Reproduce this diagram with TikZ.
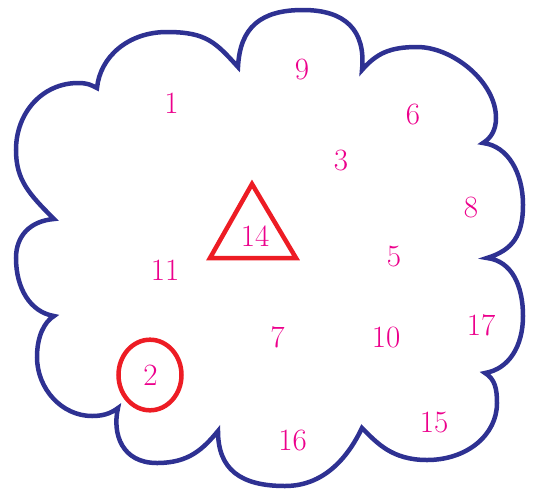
\documentclass[tikz,border=0pt]{standalone}
\definecolor{cloudblue}{RGB}{46,49,146}
\definecolor{numpink}{RGB}{236,0,140}
\definecolor{markred}{RGB}{237,28,36}
\begin{document}
\begin{tikzpicture}[x=1pt,y=-1pt,
  cloudline/.style={draw=cloudblue,line width=4.5pt,line cap=round,line join=miter},
  markline/.style={draw=markred,line width=4.5pt,line join=miter},
  num/.style={text=numpink,font=\fontsize{31}{36}\selectfont,inner sep=0pt}]
\useasboundingbox (0,0) rectangle (535,491);
% cusps of the cloud
\coordinate (A) at (97,88);
\coordinate (B) at (238,67);
\coordinate (C) at (362,70);
\coordinate (D) at (483,143);
\coordinate (E) at (487,258);
\coordinate (F) at (485,373);
\coordinate (G) at (362,428);
\coordinate (H) at (218,431);
\coordinate (I) at (118,408);
\coordinate (J) at (54,316);
\coordinate (K) at (54,219);
\coordinate (S) at (167,32);
\draw[cloudline] (S)
  .. controls +(40,0) and +(-22,-24) .. (B)
  .. controls +(2,-40) and +(-42,0) .. (303,10)
  .. controls +(42,0) and +(4,-40) .. (C)
  .. controls +(14,-16) and +(-28,0) .. (417,47)
  .. controls +(36,0) and +(0,-36) .. (496,118)
  .. controls +(0,12) and +(8,-5) .. (D)
  .. controls +(25,3) and +(0,-32) .. (523,205)
  .. controls +(0,30) and +(26,-8) .. (E)
  .. controls +(25,3) and +(0,-30) .. (523,316)
  .. controls +(0,30) and +(24,-4) .. (F)
  .. controls +(10,6) and +(0,-14) .. (497,403)
  .. controls +(0,32) and +(40,0) .. (427,460)
  .. controls +(-35,0) and +(15,15) .. (G)
  .. controls +(-12,25) and +(42,0) .. (285,486)
  .. controls +(-45,0) and +(0,38) .. (H)
  .. controls +(-15,18) and +(32,0) .. (157,463)
  .. controls +(-35,0) and +(-6,26) .. (I)
  .. controls +(-8,6) and +(10,0) .. (92,416)
  .. controls +(-30,0) and +(0,32) .. (37,357)
  .. controls +(0,-20) and +(-10,6) .. (J)
  .. controls +(-24,-4) and +(0,30) .. (16,258)
  .. controls +(0,-22) and +(-24,2) .. (K)
  .. controls +(-25,-25) and +(0,30) .. (16,150)
  .. controls +(0,-38) and +(-35,0) .. (78,83)
  .. controls +(10,0) and +(-6,-3) .. (A)
  .. controls +(3,-31) and +(-39,0) .. (S);
% red marks
\coordinate (T1) at (252,184);
\coordinate (T2) at (210,258);
\coordinate (T3) at (296,258);
\draw[markline] (T1) -- (T2) -- (T3) -- cycle;
\draw[markline] (150,375) ellipse [x radius=31.5, y radius=35.3];
% numbers
\node[num] (n1) at (171.5,103) {1};
\node[num] (n9) at (302,69.5) {9};
\node[num] (n6) at (413,114) {6};
\node[num] (n3) at (341,160) {3};
\node[num] (n8) at (471,207) {8};
\node[num] (n14) at (255,236) {14};
\node[num] (n5) at (394,257) {5};
\node[num] (n11) at (165,270) {11};
\node[num] (n17) at (481,325) {17};
\node[num] (n7) at (277.5,337) {7};
\node[num] (n10) at (386,337) {10};
\node[num] (n2) at (150.5,375.5) {2};
\node[num] (n15) at (434,422) {15};
\node[num] (n16) at (292.5,440) {16};
\end{tikzpicture}
\end{document}
